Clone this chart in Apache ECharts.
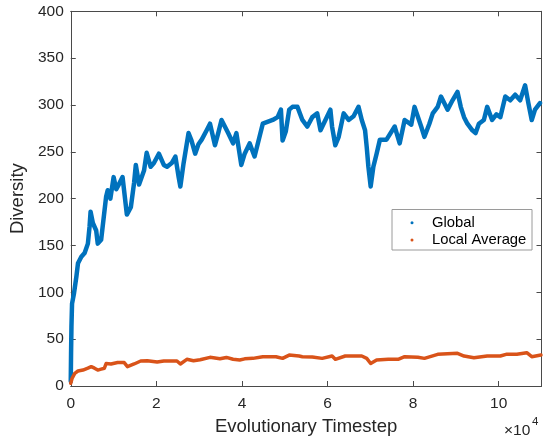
<!DOCTYPE html>
<html>
<head>
<meta charset="utf-8">
<script src="https://cdn.jsdelivr.net/npm/echarts@6/dist/echarts.min.js"></script>
<style>
  html, body { margin: 0; padding: 0; background: #fff; }
  #chart { width: 543px; height: 442px; }
</style>
</head>
<body>
<div id="chart"></div>
<script>
// Global diversity over evolutionary time
const globalSteps = [
  0, 70, 160, 300, 760, 1320, 1690, 2470, 3240, 4000, 4390, 4630, 5160, 5940,
  6310, 7100, 8260, 8630, 9250, 10020, 10640, 11330, 12100, 12490, 13110, 14040,
  14800, 15200, 15960, 17120, 17740, 18670, 19430, 20590, 21740, 22510, 23590, 24450,
  25210, 25610, 26370, 27520, 28220, 29070, 29840, 30600, 31760, 32540, 33700, 34460,
  35230, 36780, 37930, 38700, 39850, 40640, 41800, 42950, 44870, 47190, 48340, 49110,
  49500, 50260, 51050, 51810, 52970, 54120, 55280, 56440, 57590, 58360, 59510, 60670,
  61060, 61820, 62610, 63770, 64930, 66080, 67240, 68000, 68770, 69160, 69550, 70080,
  70710, 71470, 72240, 73780, 75700, 76860, 78020, 79570, 80330, 81880, 82640, 83800,
  84590, 85740, 86510, 87270, 88060, 89210, 90370, 91130, 91900, 92680, 93840, 94600,
  95370, 96530, 97310, 98460, 99460, 100380, 101540, 102700, 103850, 105010, 106170,
  106930, 107720, 108480, 109640
];
const globalValues = [
  5, 35, 63, 88, 99, 117, 131, 138, 142, 152, 170, 186, 174, 166,
  152, 156, 202, 209, 200, 223, 210, 216, 223, 225, 183, 191,
  217, 236, 215, 230, 249, 234, 238, 248, 236, 234, 238, 245,
  223, 213, 238, 270, 262, 248, 258, 263, 273, 280, 257, 270,
  284, 270, 259, 270, 236, 248, 259, 245, 280, 284, 287, 295,
  262, 272, 295, 298, 298, 284, 277, 287, 291, 273, 284, 295,
  277, 257, 266, 291, 284, 288, 298, 284, 273, 255, 234, 213,
  234, 248, 263, 263, 277, 259, 284, 279, 298, 277, 266, 280,
  291, 298, 309, 302, 295, 305, 314, 298, 287, 280, 273, 270,
  280, 284, 298, 284, 290, 287, 309, 305, 311, 305, 321,
  302, 284, 295, 302
];

// Local average diversity over evolutionary time
const localSteps = [
  0, 120, 300, 930, 1690, 2850, 4000, 4790, 5550, 6310, 7100, 7860, 8260, 9410,
  10940, 12490, 13250, 14800, 16350, 17880, 20190, 21740, 24820, 25610, 27130,
  28680, 30230, 32540, 34860, 36380, 37930, 39480, 40640, 42560, 44870, 47950,
  49500, 51050, 53360, 54120, 56440, 58750, 61060, 61820, 64140, 68000, 69160,
  70080, 71470, 74180, 76490, 78020, 81120, 82640, 85740, 90370, 91900, 94210,
  97310, 100380, 101930, 104240, 106560, 107720, 109870
];
const localValues = [
  3, 5, 8, 13.5, 16, 17, 19, 20.6, 19, 17, 18, 19, 24, 23.5,
  25, 25, 20.6, 23.5, 26.7, 27, 25.6, 26.7, 26.7, 23.5, 28.5,
  27, 28, 30.6, 29, 30.5, 28.5, 27.8, 29, 29.5, 31.3, 31.3,
  29.5, 33, 32, 31.3, 31, 29.5, 32, 28.5, 32, 32, 29.5,
  24, 27.8, 28.5, 28.5, 31.3, 30.6, 29.5, 33.8, 34.9, 32, 30.2,
  32, 32, 34, 34, 35.5, 31.3, 33
];

// Axis ticks
const xTicks = [0, 20000, 40000, 60000, 80000, 100000];
const yTicks = [0, 50, 100, 150, 200, 250, 300, 350, 400];

const seriesNames = ['Global', 'Local Average'];
const seriesColors = ['#0072BD', '#D95319'];

const pair = (xs, ys) => xs.map((x, i) => [x, ys[i]]);

const FONT = '"Liberation Sans", Arial, Helvetica, sans-serif';
const AXIS_COLOR = '#4a4a4a';
const TEXT_COLOR = '#262626';

const xMin = xTicks[0], xMax = 110000, xStep = xTicks[1] - xTicks[0];
const yMin = yTicks[0], yMax = yTicks[yTicks.length - 1], yStep = yTicks[1] - yTicks[0];

const baseX = {
  type: 'value', min: xMin, max: xMax, interval: xStep,
  splitLine: { show: false },
  axisLine: { show: true, onZero: false, lineStyle: { color: AXIS_COLOR, width: 1 } },
  axisTick: { show: true, inside: true, length: 5, lineStyle: { color: AXIS_COLOR } }
};
const baseY = {
  type: 'value', min: yMin, max: yMax, interval: yStep,
  splitLine: { show: false },
  axisLine: { show: true, onZero: false, lineStyle: { color: AXIS_COLOR, width: 1 } },
  axisTick: { show: true, inside: true, length: 5, lineStyle: { color: AXIS_COLOR } }
};

// Legend box, drawn as graphic elements
const legendBox = { x: 392, y: 209.5, w: 140, h: 40.5 };
const legendRows = [222.7, 240];
const legendGraphics = [
  { type: 'rect', shape: { x: legendBox.x, y: legendBox.y, width: legendBox.w, height: legendBox.h },
    style: { fill: '#fff', stroke: '#9a9a9a', lineWidth: 1 }, z: 10 }
];
seriesNames.forEach((name, i) => {
  legendGraphics.push(
    { type: 'circle', shape: { cx: 412, cy: legendRows[i], r: 1.5 },
      style: { fill: seriesColors[i] }, z: 11 },
    { type: 'text', x: 432, y: legendRows[i],
      style: { text: name, fontSize: 14.8, fill: '#000', fontFamily: FONT, textVerticalAlign: 'middle', verticalAlign: 'middle' }, z: 11 }
  );
});

const chart = echarts.init(document.getElementById('chart'), null, { renderer: 'canvas' });
chart.setOption({
  animation: false,
  backgroundColor: '#fff',
  textStyle: { fontFamily: FONT },
  grid: { left: 66, right: 1.5, top: 11.3, bottom: 56, containLabel: false },
  xAxis: [
    Object.assign({}, baseX, {
      position: 'bottom',
      name: 'Evolutionary Timestep', nameLocation: 'middle', nameGap: 31,
      nameTextStyle: { fontSize: 18.5, color: TEXT_COLOR, fontFamily: FONT },
      axisLabel: {
        show: true, margin: 10, fontSize: 15.5, color: TEXT_COLOR, fontFamily: FONT,
        showMaxLabel: false,
        formatter: v => (v % xStep === 0 ? String(v / 10000) : '')
      }
    }),
    Object.assign({}, baseX, { position: 'top', axisLabel: { show: false } })
  ],
  yAxis: [
    Object.assign({}, baseY, {
      position: 'left',
      name: 'Diversity', nameLocation: 'middle', nameGap: 38,
      nameTextStyle: { fontSize: 18.5, color: TEXT_COLOR, fontFamily: FONT },
      axisLabel: { show: true, margin: 7, fontSize: 15.5, color: TEXT_COLOR, fontFamily: FONT }
    }),
    Object.assign({}, baseY, { position: 'right', axisLabel: { show: false } })
  ],
  series: [
    {
      name: seriesNames[0], type: 'line', xAxisIndex: 0, yAxisIndex: 0,
      data: pair(globalSteps, globalValues),
      showSymbol: false,
      lineStyle: { color: seriesColors[0], width: 4.5, join: 'round', cap: 'round' },
      itemStyle: { color: seriesColors[0] },
      z: 3
    },
    {
      name: seriesNames[1], type: 'line', xAxisIndex: 0, yAxisIndex: 0,
      data: pair(localSteps, localValues),
      showSymbol: false,
      lineStyle: { color: seriesColors[1], width: 3.5, join: 'round', cap: 'round' },
      itemStyle: { color: seriesColors[1] },
      z: 3
    }
  ],
  graphic: legendGraphics.concat([
    { type: 'text', left: 504, top: 423, style: { text: '×10', fontSize: 15.5, fill: TEXT_COLOR, fontFamily: FONT } },
    { type: 'text', left: 532, top: 416, style: { text: '4', fontSize: 11.5, fill: TEXT_COLOR, fontFamily: FONT } }
  ])
});
</script>
</body>
</html>
